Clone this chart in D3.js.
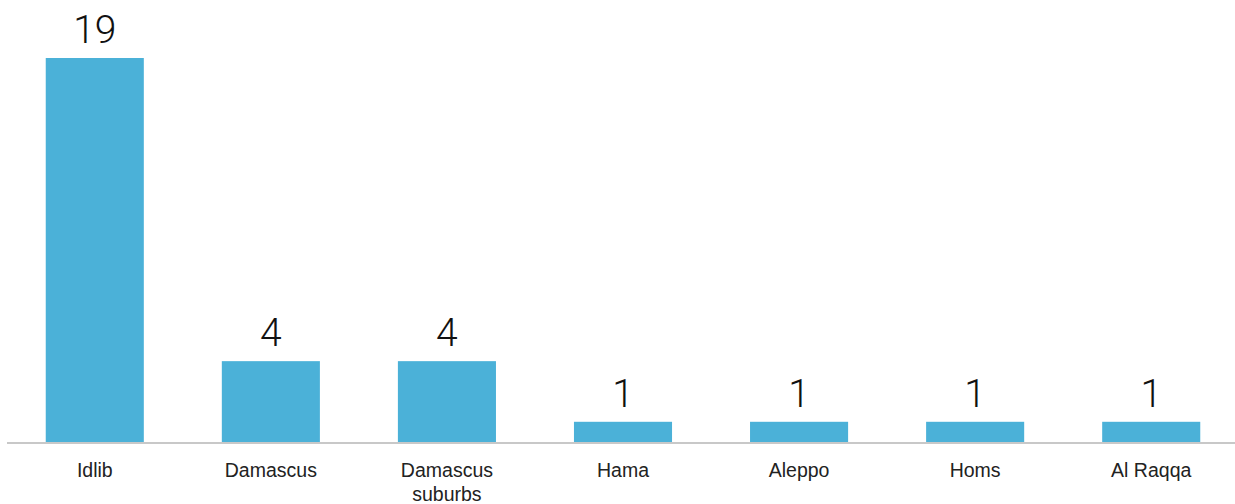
<!DOCTYPE html>
<html>
<head>
<meta charset="utf-8">
<script src="https://cdn.jsdelivr.net/npm/d3@7"></script>
<style>
  body { margin: 0; background: #fff; }
</style>
</head>
<body>
<div class="container"></div>
<script>
const categories = ["Idlib", "Damascus", "Damascus\nsuburbs", "Hama", "Aleppo", "Homs", "Al Raqqa"];
const values = [19, 4, 4, 1, 1, 1, 1];

const width = 1235;
const height = 504;

const svg = d3.select(".container")
  .append("svg")
  .attr("width", width)
  .attr("height", height);

//scales
const x = d3.scaleBand()
  .domain(categories)
  .range([10, 1236])
  .paddingInner(0.443)
  .paddingOuter(0.203);

const y = d3.scaleLinear()
  .domain([0, 19])
  .range([442, 58]);

//bars
svg.selectAll("rect.bar")
  .data(values)
  .join("rect")
  .attr("class", "bar")
  .attr("x", (d, i) => x(categories[i]))
  .attr("y", (d) => y(d))
  .attr("width", x.bandwidth())
  .attr("height", (d) => y(0) - y(d))
  .attr("fill", "#4BB1D8");

//axis line
svg.append("line")
  .attr("x1", 7)
  .attr("x2", 1235)
  .attr("y1", y(0) + 1)
  .attr("y2", y(0) + 1)
  .attr("stroke", "#c8c8c8")
  .attr("stroke-width", 2);

//value labels
svg.selectAll("text.value")
  .data(values)
  .join("text")
  .attr("class", "value")
  .attr("x", (d, i) => x(categories[i]) + x.bandwidth() / 2)
  .attr("y", (d) => y(d) - 15)
  .attr("text-anchor", "middle")
  .attr("font-family", "Roboto, 'Liberation Sans', sans-serif")
  .attr("font-weight", 300)
  .attr("font-size", 39)
  .attr("fill", "#111")
  .text((d) => d);

//category labels
const cat = svg.selectAll("text.cat")
  .data(categories)
  .join("text")
  .attr("class", "cat")
  .attr("x", (d) => x(d) + x.bandwidth() / 2)
  .attr("y", 476.5)
  .attr("text-anchor", "middle")
  .attr("font-family", "'Liberation Sans', Arial, sans-serif")
  .attr("font-size", 19.5)
  .attr("fill", "#222");

cat.each(function (d) {
  const cx = x(d) + x.bandwidth() / 2;
  d3.select(this)
    .selectAll("tspan")
    .data(d.split("\n"))
    .join("tspan")
    .attr("x", cx)
    .attr("dy", (t, i) => (i === 0 ? 0 : 24))
    .text((t) => t);
});
</script>
</body>
</html>
